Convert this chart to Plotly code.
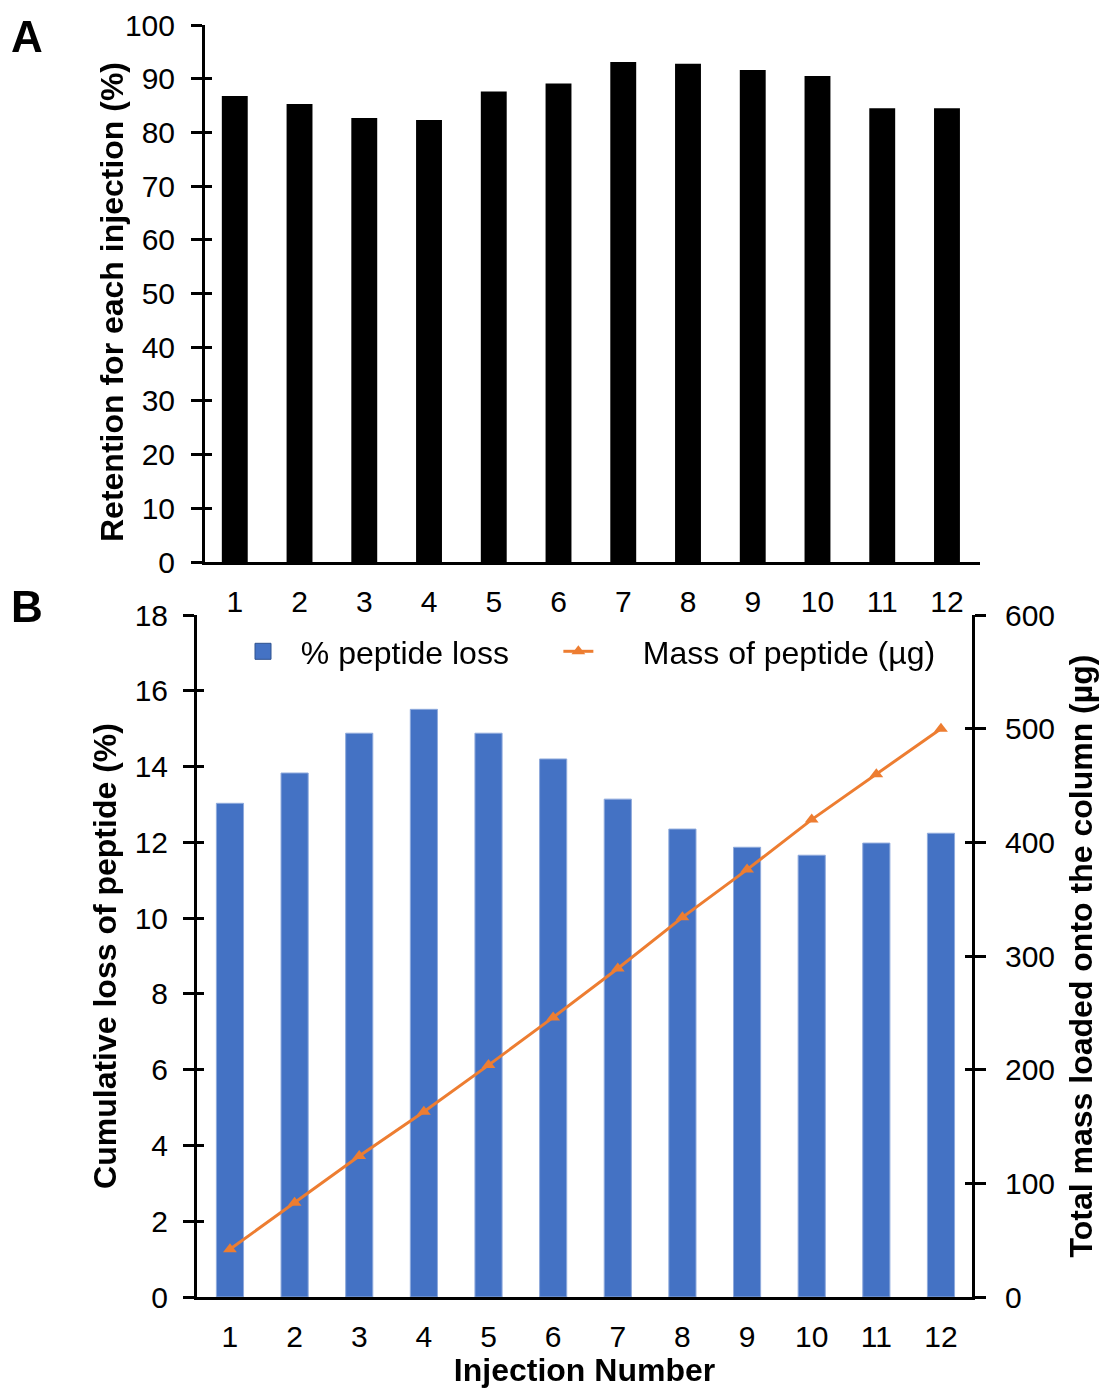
import plotly.graph_objects as go

injections = list(range(1, 13))
tick_labels = [str(i) for i in injections]
retention_pct = [86.8, 85.3, 82.7, 82.3, 87.6, 89.1, 93.1, 92.8, 91.6, 90.5, 84.5, 84.5]
peptide_loss_pct = [13.03, 13.83, 14.88, 15.51, 14.88, 14.2, 13.14, 12.35, 11.87, 11.66, 11.98, 12.24]
mass_loaded_ug = [42, 83, 124, 163, 204, 246, 289, 334, 376, 420, 460, 500]

W, H = 1104, 1388
FONT = "Liberation Sans, Arial, sans-serif"
BLUE = "#4472C4"
ORANGE = "#ED7D31"
NB = "\u00a0"

def px_x(p):
    return p / W

def px_y(p):
    return 1 - p / H

fig = go.Figure()

fig.add_trace(go.Bar(x=injections, y=retention_pct, marker=dict(color="black", line=dict(width=0)),
                     width=0.40, xaxis="x", yaxis="y", showlegend=False))

fig.add_trace(go.Bar(x=injections, y=peptide_loss_pct, name="% peptide loss",
                     marker=dict(color=BLUE, line=dict(color="#8FAADC", width=1)),
                     width=0.42, xaxis="x2", yaxis="y2", showlegend=False))

# legend proxy for the bar series (larger square symbol)
fig.add_trace(go.Scatter(x=[None], y=[None], name=NB * 2 + "% peptide loss" + NB * 5, mode="markers",
                         marker=dict(symbol="square", size=16, color=BLUE,
                                     line=dict(color="#2F528F", width=1)),
                         xaxis="x2", yaxis="y2", hoverinfo="skip"))

fig.add_trace(go.Scatter(x=injections, y=mass_loaded_ug, name=NB * 5 + "Mass of peptide (\u00b5g)",
                         mode="lines+markers", line=dict(color=ORANGE, width=3),
                         marker=dict(symbol="triangle-up", size=12, color=ORANGE),
                         xaxis="x2", yaxis="y4"))

# invisible carriers so the overlay (inner tick) axes are rendered
for xa, ya, ys in [("x", "y3", retention_pct), ("x2", "y5", peptide_loss_pct), ("x2", "y6", mass_loaded_ug)]:
    fig.add_trace(go.Scatter(x=injections, y=ys, mode="markers", opacity=0, showlegend=False,
                             hoverinfo="skip", xaxis=xa, yaxis=ya))

tickfont = dict(family=FONT, size=30, color="black")
titlefont = dict(family=FONT, size=32, color="black", weight="bold")

axA_dom_x = [px_x(205), px_x(980)]
axA_dom_y = [px_y(562), px_y(25)]
axB_dom_x = [px_x(197), px_x(972)]
axB_dom_y = [px_y(1297), px_y(615)]

common = dict(automargin=False, showgrid=False, zeroline=False)

fig.update_layout(
    width=W, height=H,
    margin=dict(l=0, r=0, t=0, b=0, autoexpand=False),
    paper_bgcolor="white", plot_bgcolor="rgba(0,0,0,0)",
    font=dict(family=FONT, size=30, color="black"),
    bargap=0.58,
    xaxis=dict(domain=axA_dom_x, anchor="y", range=[0.54, 12.51], tickvals=injections,
               ticktext=tick_labels, showline=True, linecolor="black", linewidth=3,
               ticks="", tickfont=tickfont, ticklabelstandoff=11, **common),
    yaxis=dict(domain=axA_dom_y, anchor="x", range=[0, 100], dtick=10, tick0=0,
               showline=True, linecolor="black", linewidth=3, ticks="outside",
               ticklen=11, tickwidth=3, tickcolor="black",
               tickfont=tickfont, ticklabelstandoff=10, **common),
    yaxis3=dict(domain=axA_dom_y, anchor="x", overlaying="y", range=[0, 100], dtick=10, tick0=0,
                showline=False, ticks="inside", ticklen=7, tickwidth=3, tickcolor="black",
                showticklabels=False, **common),
    xaxis2=dict(domain=axB_dom_x, anchor="y2", range=[0.49, 12.48], tickvals=injections,
                ticktext=tick_labels, showline=True, linecolor="black", linewidth=3,
                ticks="", tickfont=tickfont, ticklabelstandoff=11,
                title=dict(text="Injection Number", font=titlefont, standoff=8), **common),
    yaxis2=dict(domain=axB_dom_y, anchor="x2", range=[0, 18], dtick=2, tick0=0,
                showline=True, linecolor="black", linewidth=3, ticks="outside",
                ticklen=11, tickwidth=3, tickcolor="black",
                tickfont=tickfont, ticklabelstandoff=9,
                title=dict(text="Cumulative loss of peptide (%)", font=titlefont, standoff=9),
                **common),
    yaxis5=dict(domain=axB_dom_y, anchor="x2", overlaying="y2", range=[0, 18], dtick=2, tick0=0,
                showline=False, ticks="inside", ticklen=7, tickwidth=3, tickcolor="black",
                showticklabels=False, **common),
    yaxis4=dict(domain=axB_dom_y, anchor="x2", overlaying="y2", side="right", range=[0, 600],
                dtick=100, tick0=0, showline=True, linecolor="black", linewidth=3,
                ticks="outside", ticklen=11, tickwidth=3, tickcolor="black",
                tickfont=tickfont, ticklabelstandoff=13,
                title=dict(text="Total mass loaded onto the column (\u00b5g)", font=titlefont, standoff=16),
                **common),
    yaxis6=dict(domain=axB_dom_y, anchor="x2", overlaying="y2", side="right", range=[0, 600],
                dtick=100, tick0=0, showline=False, ticks="inside", ticklen=7, tickwidth=3,
                tickcolor="black", showticklabels=False, **common),
    legend=dict(orientation="h", x=px_x(243), y=px_y(624), xanchor="left", yanchor="top",
                font=dict(family=FONT, size=32, color="black"), bgcolor="rgba(0,0,0,0)",
                itemwidth=30, traceorder="normal", itemsizing="trace"),
    annotations=[
        dict(text="<b>Retention for each injection (%)</b>", x=px_x(112), y=px_y(302),
             xref="paper", yref="paper", xanchor="center", yanchor="middle", textangle=-90,
             showarrow=False, font=dict(family=FONT, size=32, color="black")),
        dict(text="<b>A</b>", x=px_x(27), y=px_y(36), xref="paper", yref="paper",
             xanchor="center", yanchor="middle",
             showarrow=False, font=dict(family=FONT, size=44, color="black")),
        dict(text="<b>B</b>", x=px_x(27), y=px_y(607), xref="paper", yref="paper",
             xanchor="center", yanchor="middle",
             showarrow=False, font=dict(family=FONT, size=44, color="black")),
    ],
)

fig.write_html("out.html")
